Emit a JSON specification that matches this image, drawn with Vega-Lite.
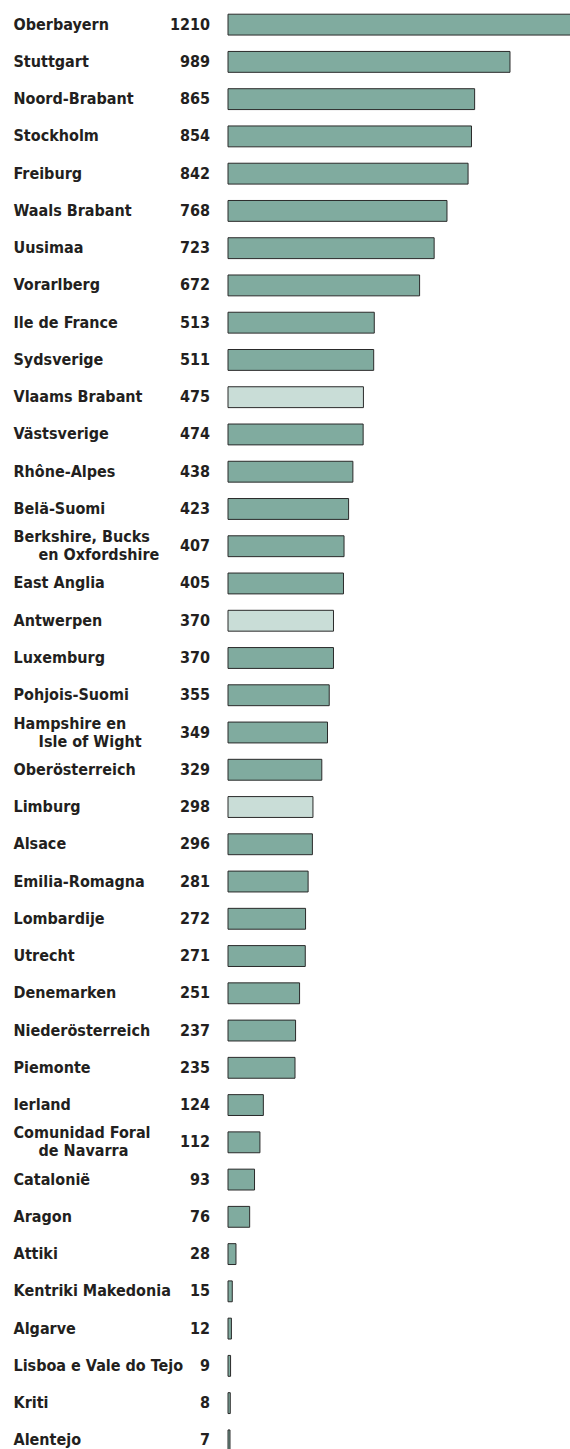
{
  "$schema": "https://vega.github.io/schema/vega-lite/v6.json",
  "autosize": {"type": "none"},
  "width": 345,
  "height": 1453,
  "padding": {"left": 228, "top": 6, "right": 0, "bottom": 0},
  "background": "white",
  "config": {"view": {"stroke": null}},
  "data": {"values": [
    {"region": "Oberbayern", "value": 1210, "group": "a"},
    {"region": "Stuttgart", "value": 989, "group": "a"},
    {"region": "Noord-Brabant", "value": 865, "group": "a"},
    {"region": "Stockholm", "value": 854, "group": "a"},
    {"region": "Freiburg", "value": 842, "group": "a"},
    {"region": "Waals Brabant", "value": 768, "group": "a"},
    {"region": "Uusimaa", "value": 723, "group": "a"},
    {"region": "Vorarlberg", "value": 672, "group": "a"},
    {"region": "Ile de France", "value": 513, "group": "a"},
    {"region": "Sydsverige", "value": 511, "group": "a"},
    {"region": "Vlaams Brabant", "value": 475, "group": "b"},
    {"region": "Västsverige", "value": 474, "group": "a"},
    {"region": "Rhône-Alpes", "value": 438, "group": "a"},
    {"region": "Belä-Suomi", "value": 423, "group": "a"},
    {"region": "Berkshire, Bucks|\u200b\u00a0\u00a0\u00a0\u00a0\u00a0en Oxfordshire", "value": 407, "group": "a"},
    {"region": "East Anglia", "value": 405, "group": "a"},
    {"region": "Antwerpen", "value": 370, "group": "b"},
    {"region": "Luxemburg", "value": 370, "group": "a"},
    {"region": "Pohjois-Suomi", "value": 355, "group": "a"},
    {"region": "Hampshire en|\u200b\u00a0\u00a0\u00a0\u00a0\u00a0Isle of Wight", "value": 349, "group": "a"},
    {"region": "Oberösterreich", "value": 329, "group": "a"},
    {"region": "Limburg", "value": 298, "group": "b"},
    {"region": "Alsace", "value": 296, "group": "a"},
    {"region": "Emilia-Romagna", "value": 281, "group": "a"},
    {"region": "Lombardije", "value": 272, "group": "a"},
    {"region": "Utrecht", "value": 271, "group": "a"},
    {"region": "Denemarken", "value": 251, "group": "a"},
    {"region": "Niederösterreich", "value": 237, "group": "a"},
    {"region": "Piemonte", "value": 235, "group": "a"},
    {"region": "Ierland", "value": 124, "group": "a"},
    {"region": "Comunidad Foral|\u200b\u00a0\u00a0\u00a0\u00a0\u00a0de Navarra", "value": 112, "group": "a"},
    {"region": "Catalonië", "value": 93, "group": "a"},
    {"region": "Aragon", "value": 76, "group": "a"},
    {"region": "Attiki", "value": 28, "group": "a"},
    {"region": "Kentriki Makedonia", "value": 15, "group": "a"},
    {"region": "Algarve", "value": 12, "group": "a"},
    {"region": "Lisboa e Vale do Tejo", "value": 9, "group": "a"},
    {"region": "Kriti", "value": 8, "group": "a"},
    {"region": "Alentejo", "value": 7, "group": "a"}
  ]},
  "encoding": {
    "y": {
      "field": "region", "type": "nominal", "sort": null,
      "scale": {"paddingInner": 0.44, "paddingOuter": 0.22},
      "axis": {
        "title": null, "domain": false, "ticks": false, "grid": false,
        "labelAlign": "left", "labelBaseline": "middle", "labelPadding": 215,
        "labelFont": "DejaVu Sans Condensed, Liberation Sans Narrow, sans-serif",
        "labelFontSize": 16, "labelFontWeight": "bold", "labelColor": "#231f20",
        "labelExpr": "split(datum.value, '|')", "labelLineHeight": 18,
        "labelOffset": {"condition": {"test": "indexof(datum.value, '|') >= 0", "value": -9}, "value": 0},
        "labelLimit": 0, "labelOverlap": false
      }
    }
  },
  "layer": [
    {
      "mark": {"type": "bar", "stroke": "#2a2a2a", "strokeWidth": 1},
      "encoding": {
        "x": {"field": "value", "type": "quantitative", "scale": {"domain": [0, 1210], "nice": false}, "axis": null},
        "color": {"field": "group", "type": "nominal", "scale": {"domain": ["a", "b"], "range": ["#80ab9f", "#c9ddd7"]}, "legend": null}
      }
    },
    {
      "mark": {"type": "text", "align": "right", "baseline": "middle", "dx": -18,
        "font": "DejaVu Sans Condensed, Liberation Sans Narrow, sans-serif",
        "fontSize": 16, "fontWeight": "bold", "color": "#231f20"},
      "encoding": {
        "x": {"datum": 0},
        "text": {"field": "value", "type": "quantitative"}
      }
    }
  ]
}
